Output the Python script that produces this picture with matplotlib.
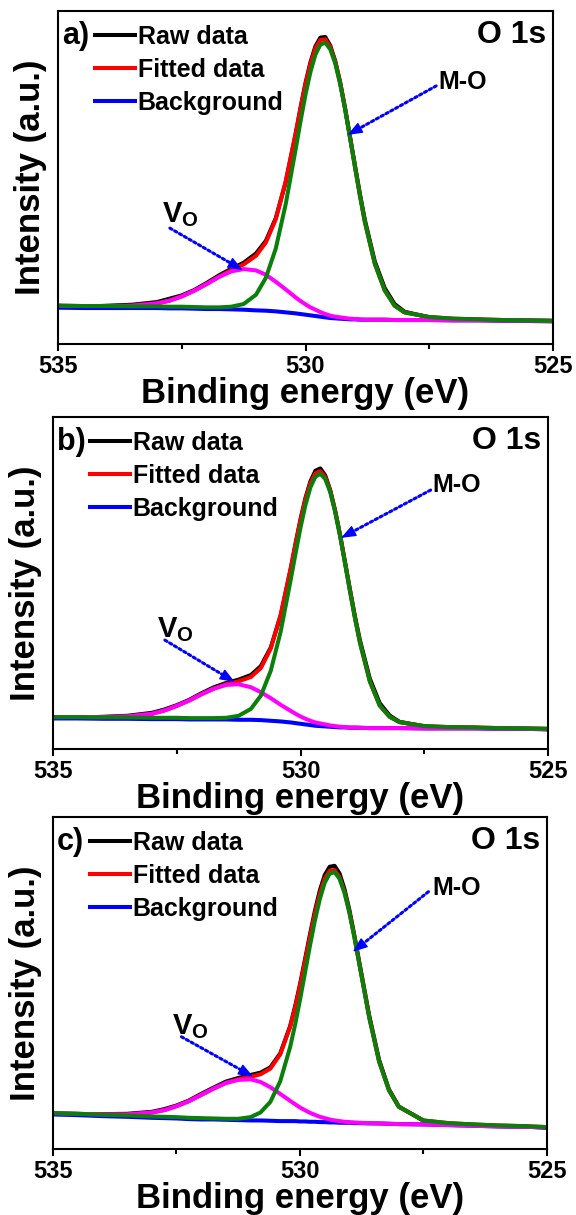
import matplotlib
matplotlib.use("Agg")
import matplotlib.pyplot as plt
from matplotlib.ticker import FixedLocator

plt.rcParams["font.family"] = ["Liberation Sans", "DejaVu Sans"]
plt.rcParams["font.weight"] = "bold"
plt.rcParams["mathtext.fontset"] = "custom"
plt.rcParams["mathtext.bf"] = "Liberation Sans:bold"
plt.rcParams["mathtext.rm"] = "Liberation Sans:bold"
plt.rcParams["mathtext.default"] = "bf"

# binding energy (eV), shared by all three spectra
energy = [535.0, 534.5, 534.0, 533.5, 533.0, 532.75, 532.5, 532.25, 532.0, 531.75,
          531.5, 531.25, 531.0, 530.8, 530.6, 530.4, 530.2, 530.1, 530.0, 529.9,
          529.8, 529.7, 529.6, 529.5, 529.4, 529.3, 529.2, 529.1, 529.0, 528.9,
          528.8, 528.6, 528.4, 528.2, 528.0, 527.5, 527.0, 526.5, 526.0, 525.5, 525.0]

# panel a)
a_raw = [11.3, 11.2, 11.5, 11.8, 12.6, 13.6, 14.6, 16.2, 18.3, 20.6, 22.6, 24.4, 27.2, 31.0,
         37.8, 48.6, 63.0, 71.0, 78.4, 84.6, 89.4, 92.0, 92.2, 89.6, 85.0, 78.6, 70.8, 62.2,
         53.6, 45.0, 37.2, 24.8, 16.8, 12.0, 9.7, 8.0, 7.4, 7.3, 7.0, 6.9, 6.8]
a_fit = [11.5, 11.4, 11.4, 11.5, 12.2, 13.0, 14.3, 16.0, 18.0, 20.2, 22.2, 23.9, 26.5, 30.5,
         37.5, 48.8, 63.2, 70.8, 78.0, 84.1, 88.8, 91.3, 91.5, 89.2, 84.8, 78.5, 70.7, 62.0,
         53.2, 44.6, 36.6, 24.1, 16.1, 11.5, 9.5, 8.1, 7.6, 7.4, 7.2, 7.1, 7.0]
a_bg = [10.9, 10.8, 10.8, 10.8, 10.8, 10.7, 10.7, 10.6, 10.5, 10.5, 10.4, 10.3, 10.1, 10.0,
        9.8, 9.5, 9.2, 9.0, 8.8, 8.6, 8.4, 8.2, 8.0, 7.8, 7.7, 7.6, 7.5, 7.4,
        7.4, 7.3, 7.3, 7.3, 7.3, 7.2, 7.2, 7.2, 7.1, 7.1, 7.0, 7.0, 6.9]
a_vo = [11.5, 11.4, 11.4, 11.5, 12.2, 13.0, 14.3, 16.0, 18.0, 20.1, 21.8, 22.5, 22.1, 20.8,
        18.7, 16.4, 14.0, 12.9, 11.9, 11.0, 10.3, 9.6, 9.0, 8.5, 8.2, 8.0, 7.8, 7.6,
        7.5, 7.4, 7.3, 7.3, 7.3, 7.2, 7.2, 7.2, 7.1, 7.1, 7.0, 7.0, 6.9]
a_mo = [11.5, 11.4, 11.4, 11.3, 11.3, 11.2, 11.2, 11.1, 11.0, 11.0, 11.2, 12.0, 14.8, 19.9,
        28.7, 42.0, 58.4, 66.9, 74.9, 81.7, 86.9, 89.9, 90.5, 88.5, 84.3, 78.1, 70.4, 61.8,
        53.1, 44.5, 36.6, 24.1, 16.1, 11.5, 9.5, 8.1, 7.6, 7.4, 7.2, 7.1, 7.0]

# panel b)
b_raw = [9.5, 9.4, 9.7, 10.0, 10.9, 11.9, 13.2, 14.8, 16.8, 18.6, 19.9, 20.9, 22.3, 25.0,
         30.6, 40.3, 54.1, 61.9, 69.2, 75.6, 80.6, 83.8, 84.5, 82.4, 78.0, 71.8, 64.5, 56.3,
         48.0, 40.0, 32.8, 21.2, 13.8, 10.1, 8.2, 6.8, 6.4, 6.4, 6.1, 6.1, 5.9]
b_fit = [9.6, 9.6, 9.6, 9.8, 10.6, 11.6, 13.0, 14.6, 16.5, 18.2, 19.5, 20.4, 21.7, 24.4,
         30.3, 40.4, 54.3, 61.7, 68.9, 75.2, 80.1, 83.0, 83.7, 81.9, 77.8, 71.7, 64.3, 56.0,
         47.6, 39.5, 32.1, 20.4, 13.1, 9.7, 8.1, 6.9, 6.6, 6.5, 6.3, 6.2, 6.1]
b_bg = [9.2, 9.2, 9.1, 9.1, 9.0, 9.0, 9.0, 8.9, 8.9, 8.9, 8.9, 8.8, 8.8, 8.7,
        8.5, 8.3, 8.0, 7.8, 7.6, 7.4, 7.2, 7.0, 6.9, 6.8, 6.7, 6.6, 6.5, 6.5,
        6.4, 6.4, 6.4, 6.3, 6.3, 6.3, 6.3, 6.2, 6.2, 6.2, 6.1, 6.1, 6.0]
b_vo = [9.6, 9.6, 9.6, 9.8, 10.6, 11.6, 13.0, 14.6, 16.5, 18.2, 19.3, 19.5, 18.6, 17.1,
        15.3, 13.3, 11.5, 10.6, 9.8, 9.1, 8.5, 8.0, 7.7, 7.4, 7.1, 6.9, 6.7, 6.6,
        6.5, 6.5, 6.4, 6.3, 6.3, 6.3, 6.3, 6.2, 6.2, 6.2, 6.1, 6.1, 6.0]
b_mo = [9.6, 9.6, 9.5, 9.5, 9.4, 9.4, 9.4, 9.3, 9.3, 9.3, 9.4, 10.0, 12.1, 16.1,
        23.6, 35.4, 50.8, 58.9, 66.7, 73.5, 78.8, 82.0, 82.9, 81.3, 77.4, 71.4, 64.1, 55.9,
        47.5, 39.4, 32.1, 20.4, 13.1, 9.7, 8.1, 6.9, 6.6, 6.5, 6.3, 6.2, 6.1]

# panel c)
c_raw = [10.6, 10.5, 10.5, 10.6, 11.2, 12.0, 13.1, 14.6, 16.6, 18.5, 20.3, 21.4, 22.3, 23.0,
         24.6, 28.8, 37.0, 42.9, 49.6, 57.0, 64.5, 71.6, 77.8, 82.5, 85.0, 85.3, 83.0, 78.3,
         72.0, 64.4, 56.3, 40.3, 26.9, 18.0, 12.8, 8.5, 7.6, 7.3, 6.9, 6.8, 6.4]
c_fit = [10.8, 10.6, 10.4, 10.4, 11.0, 11.7, 12.9, 14.4, 16.3, 18.2, 19.9, 21.0, 21.8, 22.5,
         24.2, 28.5, 36.8, 42.5, 49.1, 56.4, 63.8, 70.8, 76.8, 81.4, 83.8, 84.0, 81.9, 77.5,
         71.4, 64.0, 55.9, 39.8, 26.4, 17.7, 12.7, 8.6, 7.8, 7.4, 7.1, 6.9, 6.6]
c_bg = [10.4, 10.2, 9.9, 9.7, 9.4, 9.3, 9.2, 9.0, 8.9, 8.9, 8.8, 8.7, 8.6, 8.6,
        8.5, 8.4, 8.4, 8.4, 8.3, 8.3, 8.2, 8.2, 8.1, 8.1, 8.0, 8.0, 7.9, 7.9,
        7.9, 7.8, 7.8, 7.7, 7.7, 7.6, 7.5, 7.4, 7.2, 7.0, 6.8, 6.7, 6.5]
c_vo = [10.8, 10.6, 10.4, 10.4, 11.0, 11.7, 12.9, 14.4, 16.3, 18.2, 19.9, 20.8, 21.0, 20.2,
        18.6, 16.6, 14.5, 13.5, 12.5, 11.7, 10.9, 10.3, 9.7, 9.3, 8.9, 8.6, 8.4, 8.2,
        8.1, 8.0, 7.9, 7.8, 7.7, 7.6, 7.5, 7.4, 7.2, 7.0, 6.8, 6.7, 6.5]
c_mo = [10.8, 10.6, 10.3, 10.1, 9.8, 9.7, 9.6, 9.4, 9.3, 9.2, 9.1, 9.1, 9.6, 11.0,
        14.2, 20.4, 30.7, 37.4, 44.9, 53.0, 61.1, 68.7, 75.2, 80.2, 82.9, 83.4, 81.4, 77.2,
        71.2, 63.8, 55.8, 39.7, 26.4, 17.7, 12.7, 8.6, 7.8, 7.4, 7.1, 6.9, 6.6]

legend_labels = ["Raw data", "Fitted data", "Background"]
panel_tags = ["a)", "b)", "c)"]
x_ticks = [535, 530, 525]
x_minor = [532.5, 527.5]


def arrow(ax, tail, head):
    # dotted shaft + solid head
    ax.annotate("", xy=head, xytext=tail,
                arrowprops=dict(arrowstyle="-", color="blue", lw=2.2,
                                linestyle=(0, (0.8, 1.0)), shrinkA=0, shrinkB=4))
    dx = head[0] - tail[0]
    dy = head[1] - tail[1]
    back = (head[0] - 0.12 * dx, head[1] - 0.12 * dy)
    ax.annotate("", xy=head, xytext=back,
                arrowprops=dict(arrowstyle="-|>,head_length=0.9,head_width=0.35",
                                color="blue", lw=1, shrinkA=0, shrinkB=0))


def draw_panel(fig, rect, tag, raw, fit, bg, vo, mo, mo_txt, mo_arrow, vo_txt, vo_arrow):
    ax = fig.add_axes(rect)
    lw = 2.9
    l_raw, = ax.plot(energy, raw, color="black", lw=lw)
    l_fit, = ax.plot(energy, fit, color="#ff0000", lw=lw)
    l_bg, = ax.plot(energy, bg, color="#0000ff", lw=lw)
    ax.plot(energy, vo, color="#ff00ff", lw=lw)
    ax.plot(energy, mo, color="#0a800a", lw=lw)

    ax.set_xlim(535, 525)
    ax.set_ylim(0, 100)
    ax.xaxis.set_major_locator(FixedLocator(x_ticks))
    ax.xaxis.set_minor_locator(FixedLocator(x_minor))
    ax.set_xticklabels([str(t) for t in x_ticks])
    ax.set_yticks([])
    ax.tick_params(axis="x", which="major", direction="out", length=5, width=1.5,
                   labelsize=17, pad=3)
    ax.tick_params(axis="x", which="minor", direction="out", length=3.5, width=1.5)
    for s in ax.spines.values():
        s.set_linewidth(1.5)

    ax.set_xlabel("Binding energy (eV)", fontsize=25, fontweight="bold", labelpad=-1)
    ax.set_ylabel("Intensity (a.u.)", fontsize=25, fontweight="bold", labelpad=8)

    ax.legend([l_raw, l_fit, l_bg], legend_labels, loc="upper left",
              bbox_to_anchor=(0.075, 0.958), frameon=False, handlelength=1.6,
              handletextpad=0.1, labelspacing=0.36, borderpad=0, borderaxespad=0,
              prop=dict(family="Liberation Sans", weight="bold", size=18))

    ax.text(0.008, 0.926, tag, transform=ax.transAxes, fontsize=22,
            fontweight="bold", ha="left", va="center")
    ax.text(0.986, 0.928, "O 1s", transform=ax.transAxes, fontsize=23,
            fontweight="bold", ha="right", va="center")

    ax.text(mo_txt[0], mo_txt[1], "M-O", fontsize=18, fontweight="bold",
            ha="left", va="center")
    arrow(ax, *mo_arrow)
    ax.text(vo_txt[0], vo_txt[1], r"$V_O$", fontsize=21, ha="left", va="center")
    arrow(ax, *vo_arrow)
    return ax


fig = plt.figure(figsize=(5.76, 12.15), dpi=100)

draw_panel(fig, [58 / 576, 1 - 344 / 1215, 495 / 576, 333 / 1215], panel_tags[0],
           a_raw, a_fit, a_bg, a_vo, a_mo,
           (527.32, 78.7), ((527.36, 77.5), (529.15, 62.8)),
           (532.9, 39.0), ((532.74, 34.8), (531.27, 22.2)))
draw_panel(fig, [53 / 576, 1 - 749 / 1215, 495 / 576, 332 / 1215], panel_tags[1],
           b_raw, b_fit, b_bg, b_vo, b_mo,
           (527.34, 79.5), ((527.37, 78.0), (529.18, 63.6)),
           (532.9, 36.0), ((532.74, 32.8), (531.33, 20.2)))
draw_panel(fig, [53 / 576, 1 - 1149 / 1215, 494 / 576, 332 / 1215], panel_tags[2],
           c_raw, c_fit, c_bg, c_vo, c_mo,
           (527.33, 78.6), ((527.4, 77.5), (528.93, 59.4)),
           (532.6, 37.0), ((532.4, 33.8), (530.95, 21.8)))

fig.savefig("out.png", dpi=100)
